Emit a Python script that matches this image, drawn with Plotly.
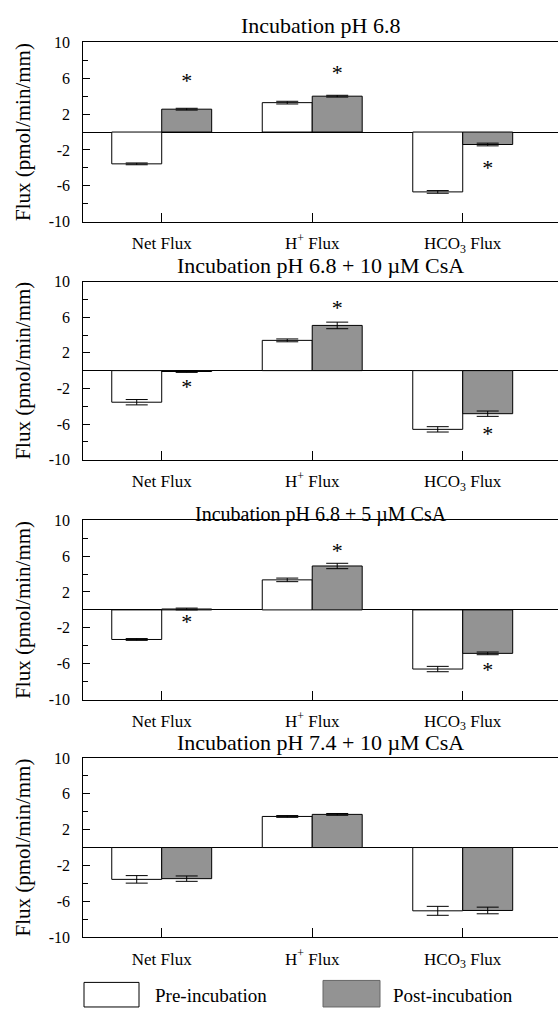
import plotly.graph_objects as go

# ---------------- data ----------------
categories = ["Net Flux", "H<sup>+</sup> Flux", "HCO<sub>3</sub> Flux"]
cat_pos = [1, 2, 3]
panel_titles = [
    "Incubation pH 6.8",
    "Incubation pH 6.8 + 10 µM CsA",
    "Incubation pH 6.8 + 5 µM CsA",
    "Incubation pH 7.4 + 10 µM CsA",
]
series_names = ["Pre-incubation", "Post-incubation"]

pre_vals = [
    [-3.55, 3.28, -6.68],
    [-3.55, 3.40, -6.60],
    [-3.30, 3.35, -6.60],
    [-3.55, 3.47, -7.06],
]
pre_se = [
    [0.10, 0.15, 0.15],
    [0.30, 0.16, 0.30],
    [0.10, 0.20, 0.30],
    [0.42, 0.10, 0.50],
]
post_vals = [
    [2.55, 4.00, -1.39],
    [-0.10, 5.08, -4.84],
    [0.10, 4.90, -4.85],
    [-3.47, 3.70, -7.02],
]
post_se = [
    [0.10, 0.10, 0.15],
    [0.10, 0.37, 0.30],
    [0.10, 0.30, 0.15],
    [0.30, 0.10, 0.37],
]
# significance asterisks (y position of each star, None = no star)
star_y = [
    [5.55, 6.40, -4.20],
    [-2.00, 6.87, -7.30],
    [-1.50, 6.45, -6.90],
    [None, None, None],
]

y_major = [-10, -6, -2, 2, 6, 10]
y_minor = [-8, -4, 0, 4, 8]
y_title = "Flux (pmol/min/mm)"

# ---------------- style / layout ----------------
FONT = "Liberation Serif"
POST_COLOR = "#939393"
W, H = 558, 1015
x_dom = [83.3 / W, 1.0]
panel_px = [(35, 217.3), (278.3, 459.3), (521, 703.3), (762.7, 945)]  # top, bottom in px
title_px = [18, 262, 515, 747]
title_size = [22, 22, 20, 22]
bargap = 0.336
half = (1 - bargap) / 4

fig = go.Figure()
layout_axes = {}
annotations = []

for i in range(4):
    sfx = "" if i == 0 else str(i + 1)
    xa, ya = "x" + sfx, "y" + sfx
    top, bot = panel_px[i]
    fig.add_trace(go.Bar(
        x=cat_pos, y=pre_vals[i], name=series_names[0], showlegend=False,
        xaxis=xa, yaxis=ya,
        marker=dict(color="white", line=dict(color="black", width=1)),
        error_y=dict(type="data", array=pre_se[i], color="black", thickness=1, width=11),
    ))
    fig.add_trace(go.Bar(
        x=cat_pos, y=post_vals[i], name=series_names[1], showlegend=False,
        xaxis=xa, yaxis=ya,
        marker=dict(color=POST_COLOR, line=dict(color="black", width=1)),
        error_y=dict(type="data", array=post_se[i], color="black", thickness=1, width=11),
    ))
    sx = [c + half for c, s in zip(cat_pos, star_y[i]) if s is not None]
    sy = [s for s in star_y[i] if s is not None]
    if sx:
        fig.add_trace(go.Scatter(
            x=sx, y=sy, mode="text", text=["*"] * len(sx), showlegend=False,
            textfont=dict(family=FONT, size=22, color="black"),
            textposition="middle center", xaxis=xa, yaxis=ya, hoverinfo="skip",
        ))
    layout_axes["xaxis" + sfx] = dict(
        domain=x_dom, range=[0.479, 3.633], anchor=ya,
        tickmode="array", tickvals=cat_pos, ticktext=categories,
        ticks="inside", ticklen=9, tickwidth=1, tickcolor="black",
        showline=True, linecolor="black", linewidth=1, mirror=True,
        showgrid=False, zeroline=False, ticklabelstandoff=6,
        tickfont=dict(family=FONT, size=17, color="black"),
    )
    layout_axes["yaxis" + sfx] = dict(
        domain=[1 - bot / H, 1 - top / H], range=[-10, 10], anchor=xa,
        tickmode="array", tickvals=y_major, ticktext=[str(v) for v in y_major],
        ticks="inside", ticklen=7, tickwidth=1, tickcolor="black",
        minor=dict(tickvals=y_minor, ticks="inside", ticklen=5, tickwidth=1, tickcolor="black"),
        showline=True, linecolor="black", linewidth=1, mirror=False,
        showgrid=False, zeroline=True, zerolinecolor="black", zerolinewidth=1,
        ticklabelstandoff=9,
        tickfont=dict(family=FONT, size=16, color="black"),
        title=dict(text=y_title, font=dict(family=FONT, size=21, color="black"), standoff=12),
    )
    annotations.append(dict(
        text=panel_titles[i], xref="paper", yref="paper",
        x=(x_dom[0] + x_dom[1]) / 2, y=1 - title_px[i] / H,
        xanchor="center", yanchor="middle", showarrow=False,
        font=dict(family=FONT, size=title_size[i], color="black"),
    ))

# legend (drawn as boxes + labels)
shapes = [
    dict(type="rect", xref="paper", yref="paper",
         x0=84 / W, x1=139 / W, y0=1 - 1016 / H, y1=1 - 991 / H,
         fillcolor="white", line=dict(color="black", width=1)),
    dict(type="rect", xref="paper", yref="paper",
         x0=323 / W, x1=380 / W, y0=1 - 1016 / H, y1=1 - 989 / H,
         fillcolor=POST_COLOR, line=dict(color="#666666", width=1)),
]
annotations += [
    dict(text=series_names[0], xref="paper", yref="paper", x=153 / W, y=1 - 1004 / H,
         xanchor="left", yanchor="middle", showarrow=False,
         font=dict(family=FONT, size=19, color="black")),
    dict(text=series_names[1], xref="paper", yref="paper", x=391 / W, y=1 - 1004 / H,
         xanchor="left", yanchor="middle", showarrow=False,
         font=dict(family=FONT, size=19, color="black")),
]

fig.update_layout(
    width=W, height=H, margin=dict(l=0, r=0, t=0, b=0),
    paper_bgcolor="white", plot_bgcolor="white",
    barmode="group", bargap=bargap, bargroupgap=0,
    showlegend=False, annotations=annotations, shapes=shapes,
    font=dict(family=FONT, color="black"),
    **layout_axes,
)

fig.write_html("out.html")
